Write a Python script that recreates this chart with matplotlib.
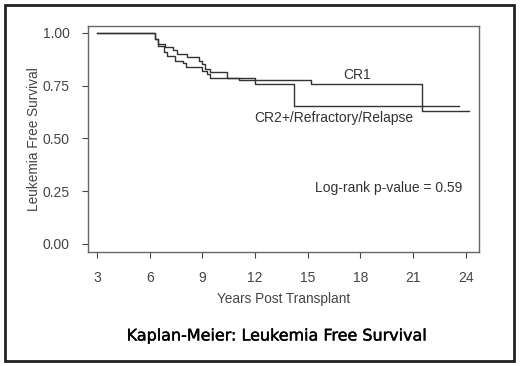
import matplotlib
matplotlib.use('Agg')
import matplotlib.pyplot as plt
import matplotlib.patheffects as pe
from matplotlib.patches import Rectangle

# step curves (years, survival)
cr1_t = [3.0, 6.30, 6.45, 6.90, 7.35, 7.55, 8.15, 8.80, 9.00, 9.15, 9.45, 10.40, 11.10, 15.20, 21.50, 24.20]
cr1_s = [1.0, 0.971, 0.948, 0.932, 0.917, 0.900, 0.884, 0.868, 0.852, 0.829, 0.813, 0.786, 0.777, 0.757, 0.630, 0.630]

cr2_t = [3.0, 6.30, 6.50, 6.82, 7.00, 7.44, 7.88, 8.07, 8.96, 9.25, 9.45, 12.00, 14.20, 23.60]
cr2_s = [1.0, 0.971, 0.940, 0.908, 0.892, 0.868, 0.860, 0.837, 0.821, 0.805, 0.786, 0.757, 0.654, 0.654]

xticks = [3, 6, 9, 12, 15, 18, 21, 24]
yticks = [0.0, 0.25, 0.50, 0.75, 1.00]

plt.rcParams['font.family'] = ['Liberation Sans', 'DejaVu Sans']
gray = '#444444'

fig = plt.figure(figsize=(5.2, 3.66), dpi=100)
ax = fig.add_axes([88/520, 1-252/366, (479-88)/520, (252-26)/366])

ax.step(cr1_t, cr1_s, where='post', color='#333333', lw=1.0)
ax.step(cr2_t, cr2_s, where='post', color='#333333', lw=1.0)

ax.set_xlim(2.49, 24.75)
ax.set_ylim(-0.038, 1.033)
ax.set_xticks(xticks)
ax.set_yticks(yticks)
ax.set_yticklabels(['%.2f' % v for v in yticks])
ax.tick_params(colors=gray, labelsize=10, length=4, width=0.8)
ax.tick_params(axis='x', pad=10)
ax.tick_params(axis='y', pad=9)
for s in ax.spines.values():
    s.set_color('#666666')
    s.set_linewidth(1.0)

ax.set_xlabel('Years Post Transplant', fontsize=9.8, color=gray, labelpad=5)
ax.set_ylabel('Leukemia Free Survival', fontsize=9.8, color=gray, labelpad=1)

ax.text(17.8, 0.80, 'CR1', fontsize=10, color='#333333', ha='center', va='center')
ax.text(16.5, 0.595, 'CR2+/Refractory/Relapse', fontsize=10, color='#333333', ha='center', va='center')
ax.text(19.6, 0.267, 'Log-rank p-value = 0.59', fontsize=10, color='#333333', ha='center', va='center')

fig.text(278/520, 1-336/366, 'Kaplan-Meier: Leukemia Free Survival', fontsize=11.5,
         family='DejaVu Sans', ha='center', va='center', color='black',
         path_effects=[pe.withStroke(linewidth=0.3, foreground='black')])

fig.patches.append(Rectangle((5/520, 5/366), 509/520, 356/366, transform=fig.transFigure,
                             fill=False, edgecolor='#222222', linewidth=2))

fig.savefig('out.png', dpi=100)
